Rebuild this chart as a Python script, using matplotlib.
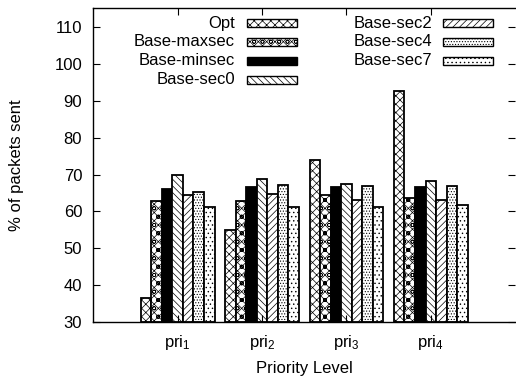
import numpy as np
import matplotlib
matplotlib.use("Agg")
import matplotlib.pyplot as plt
from matplotlib.patches import Rectangle

plt.rcParams['font.family'] = ['Liberation Sans', 'DejaVu Sans']
plt.rcParams['mathtext.default'] = 'regular'
plt.rcParams['hatch.linewidth'] = 0.5

# data
groups = ['pri$_1$', 'pri$_2$', 'pri$_3$', 'pri$_4$']
series = ['Opt', 'Base-maxsec', 'Base-minsec', 'Base-sec0',
          'Base-sec2', 'Base-sec4', 'Base-sec7']
opt = [36.6, 55.1, 73.9, 92.7]
maxsec = [62.8, 62.9, 64.5, 63.6]
minsec = [66.0, 66.6, 66.7, 66.5]
sec0 = [69.8, 68.8, 67.4, 68.2]
sec2 = [64.4, 64.6, 63.1, 63.1]
sec4 = [65.3, 67.3, 66.9, 66.9]
sec7 = [61.3, 61.2, 61.3, 61.8]
values = [opt, maxsec, minsec, sec0, sec2, sec4, sec7]

# gnuplot-ish fill styles
styles = [
    dict(facecolor='white', hatch='xxxx'),
    dict(facecolor='white', hatch='xxxxoo'),
    dict(facecolor='black', hatch=None),
    dict(facecolor='white', hatch='\\\\\\\\\\'),
    dict(facecolor='white', hatch='/////'),
    dict(facecolor='white', hatch='......'),
    dict(facecolor='white', hatch='....'),
]
FS = 12

fig = plt.figure(figsize=(5.16, 3.83), dpi=100)
ax = fig.add_axes([0.1808, 0.1585, 0.8176, 0.8198])

x = np.arange(len(groups))
slot = 1.0 / 8
for i, (name, vals) in enumerate(zip(series, values)):
    ax.bar(x + (i - 3) * slot, np.array(vals) - 30, bottom=30, width=slot,
           edgecolor='black', linewidth=1.3, **styles[i])

ax.set_xlim(-1, 4)
ax.set_ylim(30, 115)
ax.set_yticks(np.arange(30, 111, 10))
ax.set_xticks(x)
ax.set_xticklabels(groups)
ax.tick_params(direction='in', length=5, width=0.8, labelsize=FS,
               top=True, right=True)
ax.tick_params(axis='y', pad=8)
ax.tick_params(axis='x', pad=8)
ax.spines['right'].set_visible(False)
for s in ['left', 'top', 'bottom']:
    ax.spines[s].set_linewidth(1.0)

fig.text(0.032, 0.569, '% of packets sent', rotation=90, ha='center',
         va='center', fontsize=FS)
fig.text(0.589, 0.038, 'Priority Level', ha='center', va='center', fontsize=FS)

# legend drawn by hand: label right-aligned, sample box to the right
W, H = 516.0, 383.0
x0, x1 = ax.get_position().x0 * W, ax.get_position().x1 * W
y0, y1 = (1 - ax.get_position().y1) * H, (1 - ax.get_position().y0) * H
def to_ax(px, py):
    return (px - x0) / (x1 - x0), (y1 - py) / (y1 - y0)

cols = [(235, 247), (432, 443)]
rows = [23.3, 42, 60.8, 79.5]
for i, name in enumerate(series):
    c, r = (0, i) if i < 4 else (1, i - 4)
    tx, bx = cols[c]
    py = rows[r]
    ax_x, ax_y = to_ax(tx, py)
    ax.text(ax_x, ax_y, name, transform=ax.transAxes, ha='right',
            va='center', fontsize=FS)
    bx0, by0 = to_ax(bx, py + 4)
    bx1, by1 = to_ax(bx + 50, py - 4)
    ax.add_patch(Rectangle((bx0, by0), bx1 - bx0, by1 - by0,
                           transform=ax.transAxes, edgecolor='black',
                           linewidth=1.0, **styles[i]))

fig.savefig('out.png', dpi=100)
